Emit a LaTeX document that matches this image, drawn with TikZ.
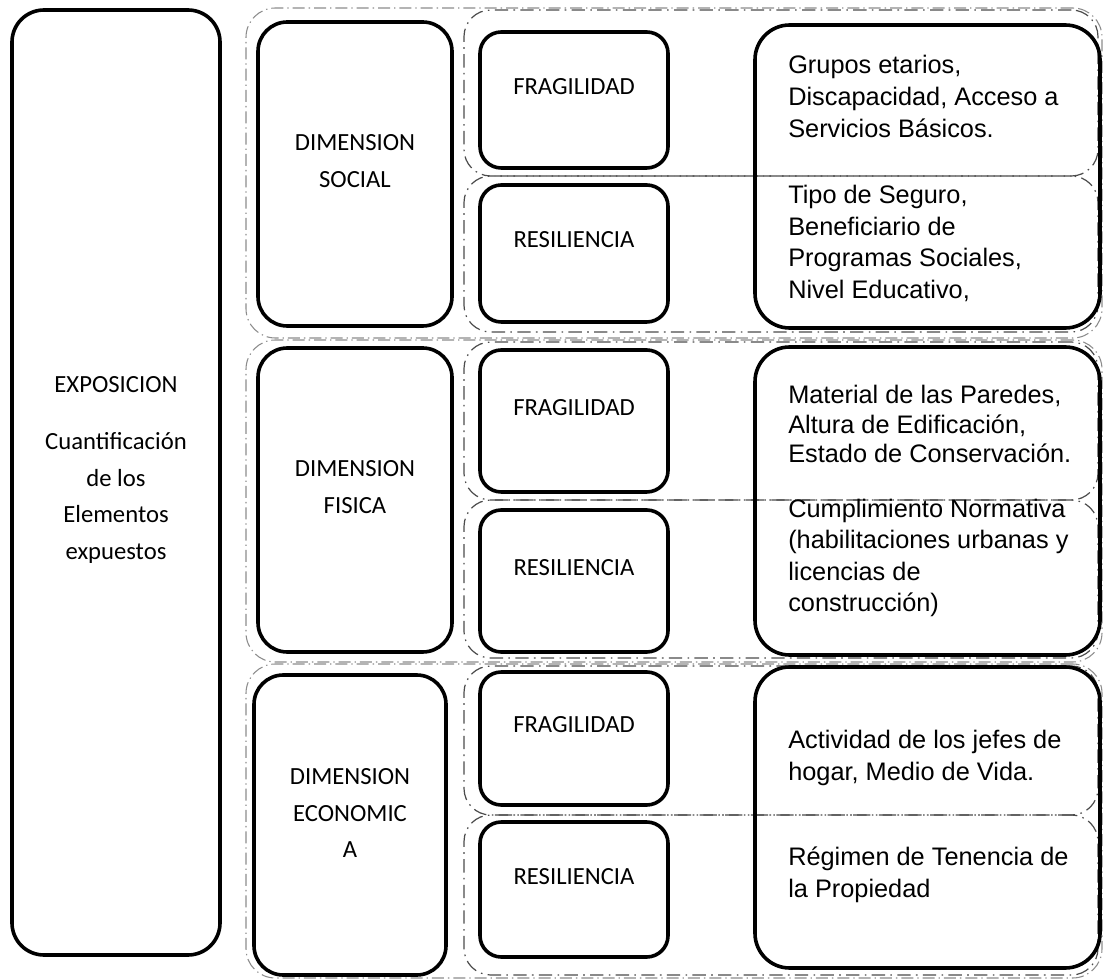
\documentclass[tikz,border=0pt]{standalone}
\usepackage{fontspec}
\setmainfont{Liberation Sans}
\newfontfamily\carlito{Carlito}
\usepackage{tikz}

\begin{document}
\begin{tikzpicture}[
            x=0.75pt, y=-0.75pt,
            sz/.style 2 args={minimum width=#1*0.75pt, minimum height=#2*0.75pt},
            box/.style={rectangle, rounded corners=22pt, draw=black, line width=2.7pt,
                        inner sep=0pt},
            grp/.style={rectangle, rounded corners=22pt, draw=black!45, line width=0.8pt,
                        dash pattern=on 9pt off 3pt on 1pt off 3pt, inner sep=0pt},
            fila/.style={rectangle, rounded corners=20pt, draw=black!70, line width=0.9pt,
                         dash pattern=on 10pt off 4pt on 1.2pt off 4pt, inner sep=0pt},
            lbl/.style={align=center, inner sep=0pt, font=\carlito\fontsize{18.5}{27.5}\selectfont},
            desc/.style={anchor=west, align=left, inner sep=0pt, font=\fontsize{19}{23.8}\selectfont}
        ]
        \useasboundingbox (0,0) rectangle (1104,980);

        % grupos por dimension
        \node[grp, sz={856}{330}] (gsoc) at (674,173) {};
        \node[grp, sz={856}{322}] (gfis) at (674,501) {};
        \node[grp, sz={856}{314}] (geco) at (674,821) {};

        % filas fragilidad / resiliencia
        \node[fila, sz={634}{166}] (fsoc) at (781,93) {};
        \node[fila, sz={634}{156}] (rsoc) at (781,254) {};
        \node[fila, sz={634}{158}] (ffis) at (781,421) {};
        \node[fila, sz={634}{158}] (rfis) at (781,579) {};
        \node[fila, sz={634}{149}] (feco) at (781,740.5) {};
        \node[fila, sz={634}{160}] (reco) at (781,895) {};

        % exposicion
        \node[box, rounded corners=24pt, sz={208}{945}] (expo) at (116,482.5) {};
        \node[lbl] (expotxt) at (116,470) {EXPOSICION\\[15pt]Cuantificación\\de los\\Elementos\\expuestos};

        % dimensiones
        \node[box, sz={194}{304}] (dsoc) at (355,174) {};
        \node[box, sz={194}{304}] (dfis) at (355,500) {};
        \node[box, sz={192}{300}] (deco) at (350,825) {};
        \node[lbl] (tsoc) at (355,161) {DIMENSION\\SOCIAL};
        \node[lbl] (tfis) at (355,487) {DIMENSION\\FISICA};
        \node[lbl] (teco) at (350,813) {DIMENSION\\ECONOMIC\\A};

        % fragilidad y resiliencia
        \node[box, rounded corners=16pt, sz={188}{136}] (fragsoc) at (574,100) {};
        \node[box, rounded corners=16pt, sz={188}{137}] (ressoc) at (574,253.5) {};
        \node[box, rounded corners=16pt, sz={188}{142}] (fragfis) at (574,421) {};
        \node[box, rounded corners=16pt, sz={188}{142}] (resfis) at (574,581) {};
        \node[box, rounded corners=16pt, sz={188}{133}] (frageco) at (574,738.5) {};
        \node[box, rounded corners=16pt, sz={188}{135}] (reseco) at (574,889.5) {};
        \node[lbl] at (574,87) (lfragsoc) {FRAGILIDAD};
        \node[lbl] at (574,240) (lressoc) {RESILIENCIA};
        \node[lbl] at (574,408) (lfragfis) {FRAGILIDAD};
        \node[lbl] at (574,568) (lresfis) {RESILIENCIA};
        \node[lbl] at (574,725) (lfrageco) {FRAGILIDAD};
        \node[lbl] at (574,877) (lreseco) {RESILIENCIA};

        % indicadores
        \node[box, rounded corners=26pt, sz={345}{303}] (isoc) at (927.5,176.5) {};
        \node[box, rounded corners=26pt, sz={345}{308}] (ifis) at (927.5,501) {};
        \node[box, rounded corners=26pt, sz={345}{301}] (ieco) at (927.5,817.5) {};
        \node[desc] (dfragsoc) at (788,96.5) {Grupos etarios,\\Discapacidad, Acceso a\\Servicios Básicos.};
        \node[desc] (dressoc) at (788,243.5) {Tipo de Seguro,\\Beneficiario de\\Programas Sociales,\\Nivel Educativo,};
        \node[desc, font=\fontsize{19}{22}\selectfont] (dfragfis) at (788,424) {Material de las Paredes,\\Altura de Edificación,\\Estado de Conservación.};
        \node[desc, font=\fontsize{19}{23.4}\selectfont] (dresfis) at (788,558) {Cumplimiento Normativa\\(habilitaciones urbanas y\\licencias de\\construcción)};
        \node[desc] (dfrageco) at (788,758) {Actividad de los jefes de\\hogar, Medio de Vida.};
        \node[desc] (dreseco) at (788,875) {Régimen de Tenencia de\\la Propiedad};
\end{tikzpicture}
\end{document}
